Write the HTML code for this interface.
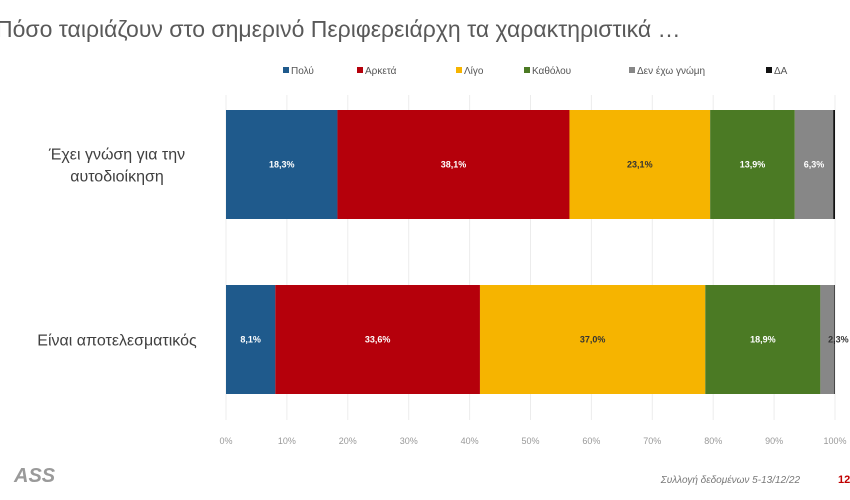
<!DOCTYPE html>
<html><head><meta charset="utf-8"><style>
body{margin:0;width:850px;height:500px;background:#fff;overflow:hidden;font-family:"Liberation Sans",sans-serif;}
svg{display:block}
</style></head><body>
<svg id="c" width="850" height="500">
<text x="-4" y="37" font-size="23" fill="#595959">Πόσο ταιριάζουν στο σημερινό Περιφερειάρχη τα χαρακτηριστικά …</text>
<g id="grid"></g><g id="bars"></g><g id="legend"></g><g id="ticks"></g>
<text x="14" y="482" font-size="20" font-weight="bold" font-style="italic" fill="#9a9a9a">ASS</text>
<text x="800" y="483" font-size="10" font-style="italic" fill="#777" text-anchor="end">Συλλογή δεδομένων 5-13/12/22</text>
<text x="838" y="483" font-size="11" font-weight="bold" fill="#c00000">12</text>
</svg>
<script>
const categories=["Έχει γνώση για την|αυτοδιοίκηση","Είναι αποτελεσματικός"];
const seriesNames=["Πολύ","Αρκετά","Λίγο","Καθόλου","Δεν έχω γνώμη","ΔΑ"];
const polu=[18.3,8.1];
const arketa=[38.1,33.6];
const ligo=[23.1,37.0];
const katholou=[13.9,18.9];
const dengnomi=[6.3,2.3];
const da=[0.3,0.1];
const tickLabels=["0%","10%","20%","30%","40%","50%","60%","70%","80%","90%","100%"];
const colors=["#1f5a8c","#b5000b","#f6b400","#4b7a24","#878787","#111"];
const series=[polu,arketa,ligo,katholou,dengnomi,da];
const NS="http://www.w3.org/2000/svg";
const x0=226,x1=835,xs=v=>x0+(x1-x0)*v/100;
const yTop=[110,285],bh=109;
function mk(t,a,p){const e=document.createElementNS(NS,t);for(const k in a)e.setAttribute(k,a[k]);p.appendChild(e);return e;}
const grid=document.getElementById('grid'),ticks=document.getElementById('ticks');
tickLabels.forEach((t,i)=>{
 const x=xs(i*10);
 const l=mk('line',{x1:x,x2:x,y1:95,y2:420,stroke:'#ececec','stroke-width':1},grid);
 
 
 const tx=mk('text',{x:x,y:444,'font-size':9,fill:'#999','text-anchor':'middle'},ticks);
 tx.textContent=t;
 
 
});
const bars=document.getElementById('bars');
categories.forEach((c,ci)=>{
 let acc=0;const y=yTop[ci];
 series.forEach((s,si)=>{
  const v=s[ci];
  const r=mk('rect',{x:xs(acc),y:y,width:xs(acc+v)-xs(acc),height:bh,fill:colors[si]},bars);
  
  
  if(si<5){
   const t=mk('text',{x:(si==4&&v<4)?xs(acc+v)+4:xs(acc+v/2),y:y+bh/2+3,'font-size':9,'font-weight':'bold',fill:(si==2?'#333':'#fff'),'text-anchor':(si==4&&v<4)?'middle':'middle'},bars);
   if(si==4&&v<4)t.setAttribute('fill','#333');
   t.textContent=v.toFixed(1).replace('.',',')+'%';
   
   
  }
  acc+=v;
 });
 const lines=c.split('|');
 lines.forEach((ln,li)=>{
  const t=mk('text',{x:117,y:y+bh/2+(li-(lines.length-1)/2)*22+6,'font-size':16,fill:'#404040','text-anchor':'middle'},bars);
  t.textContent=ln;
  
  
 });
});
const lg=document.getElementById('legend');
const lx=[283,357,456,524,629,766];
seriesNames.forEach((n,i)=>{
 const g=mk('g',{},lg);
 
 
 mk('rect',{x:lx[i],y:67,width:6,height:6,fill:colors[i]},g);
 const t=mk('text',{x:lx[i]+8,y:74,'font-size':10,fill:'#555'},g);
 t.textContent=n;
});
</script>
</body></html>
